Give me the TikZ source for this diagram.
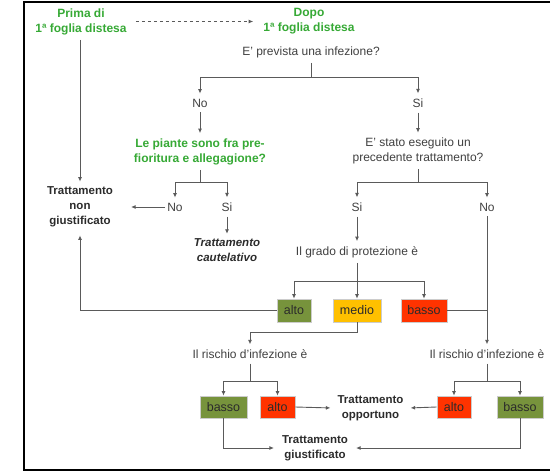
\documentclass[tikz,border=0pt]{standalone}
\usepackage{fontspec}
\setmainfont{Liberation Sans}
\usetikzlibrary{arrows.meta}
\definecolor{gtxt}{HTML}{36A935}
\definecolor{tgray}{HTML}{404040}
\definecolor{tdark}{HTML}{2B2B2B}
\definecolor{lgray}{HTML}{5A5A5A}
\definecolor{bgreen}{HTML}{77933C}
\definecolor{byellow}{HTML}{FFC000}
\definecolor{bred}{HTML}{FF3300}
\tikzset{
  txt/.style={font=\fontsize{12}{15}\selectfont, text=tgray, align=center, inner sep=5pt},
  gtx/.style={txt, font=\fontsize{12}{15}\selectfont\bfseries, text=gtxt},
  btx/.style={txt, font=\fontsize{11.5}{15}\selectfont\bfseries, text=tdark},
  itx/.style={txt, font=\fontsize{11.5}{15}\selectfont\bfseries\itshape, text=tdark},
  box/.style={draw=white!80!black, line width=0.6pt, font=\fontsize{12.5}{15}\selectfont, text=tdark, minimum height=23pt, inner sep=0pt},
  ln/.style={draw=lgray, line width=0.9pt},
  arr/.style={ln, -{Latex[length=4.5pt,width=4pt]}},
}
\begin{document}
\begin{tikzpicture}[x=1pt,y=-1pt]
\clip (0,0) rectangle (550,472);
\draw[line width=1.6pt] (24,2) rectangle (600,470);
% nodes
\node[gtx] (prima) at (81,21.5) {Prima di\\1ª foglia distesa};
\node[gtx] (dopo) at (309,21.5) {Dopo\\1ª foglia distesa};
\node[txt] (q1) at (311,52) {E' prevista una infezione?};
\node[txt] (no1) at (200,103) {No};
\node[txt] (si1) at (418,103) {Si};
\node[gtx] (q2) at (200,151.5) {Le piante sono fra pre-\\fioritura e allegagione?};
\node[txt] (q3) at (418,151) {E' stato eseguito un\\precedente trattamento?};
\node[txt] (no2) at (175,207) {No};
\node[txt] (si2) at (227,207) {Si};
\node[btx] (nong) at (80,207) {Trattamento\\non\\giustificato};
\node[itx] (caut) at (227,250.5) {Trattamento\\cautelativo};
\node[txt] (si3) at (357,207) {Si};
\node[txt] (no3) at (487,207) {No};
\node[txt] (grado) at (357,252) {Il grado di protezione è};
\node[box, fill=bgreen, minimum width=34pt] (alto1) at (294,310.5) {alto};
\node[box, fill=byellow, minimum width=48pt] (medio) at (357,310.5) {medio};
\node[box, fill=bred, minimum width=46pt] (basso1) at (424,310.5) {basso};
\node[txt] (risk1) at (250,354) {Il rischio d'infezione è};
\node[txt] (risk2) at (487,354) {Il rischio d'infezione è};
\node[box, fill=bgreen, minimum width=47pt, minimum height=22pt] (basso2) at (223.5,407) {basso};
\node[box, fill=bred, minimum width=35pt, minimum height=22pt] (alto2) at (277.5,407) {alto};
\node[btx] (opp) at (370.5,408) {Trattamento\\opportuno};
\node[box, fill=bred, minimum width=34pt, minimum height=22pt] (alto3) at (454,407) {alto};
\node[box, fill=bgreen, minimum width=46pt, minimum height=22pt] (basso3) at (520,407) {basso};
\node[btx] (giust) at (315,448) {Trattamento\\giustificato};
% junctions
\coordinate (j1) at (311,77);
\coordinate (j2) at (200,182);
\coordinate (j3) at (418,182);
\coordinate (j4) at (357,281);
\coordinate (j5) at (250,332);
\coordinate (j6) at (250,381);
\coordinate (j7) at (487,381);
% connectors
\draw[arr, dash pattern=on 3.5pt off 2.5pt, shorten <=4pt, shorten >=5pt] (prima.east) -- (dopo.west);
\draw[arr] (prima.south -| nong.north) -- (nong.north);
\draw[ln] (q1.south) -- (j1);
\draw[arr] (j1) -| (no1.north);
\draw[arr] (j1) -| (si1.north);
\draw[arr] (no1.south) -- (q2.north);
\draw[arr] (si1.south) -- (q3.north);
\draw[ln] (q2.south) -- (j2);
\draw[arr] (j2) -| (no2.north);
\draw[arr] (j2) -| (si2.north);
\draw[arr, shorten <=-3pt, shorten >=13pt] (no2.west) -- (no2.west -| nong.east);
\draw[arr] (si2.south) -- (caut.north);
\draw[arr, shorten >=3pt] (alto1.west) -| (nong.south);
\draw[ln] (q3.south) -- (j3);
\draw[arr] (j3) -| (si3.north);
\draw[arr] (j3) -| (no3.north);
\draw[arr] (si3.south) -- (grado.north);
\draw[ln] (grado.south) -- (j4);
\draw[arr] (j4) -| (alto1.north);
\draw[arr] (j4) -- (medio.north);
\draw[arr] (j4) -| (basso1.north);
\draw[arr] (medio.south) |- (j5) -- (risk1.north);
\draw[ln] (basso1.east) -- (basso1.east -| no3.south);
\draw[arr] (no3.south) -- (risk2.north);
\draw[ln] (risk1.south) -- (j6);
\draw[arr] (j6) -| (basso2.north);
\draw[arr] (j6) -| (alto2.north);
\draw[ln] (risk2.south) -- (j7);
\draw[arr] (j7) -| (alto3.north);
\draw[arr] (j7) -| (basso3.north);
\draw[arr, shorten >=2pt] (alto2.east) -- (opp.west);
\draw[arr, shorten >=2pt] (alto3.west) -- (opp.east);
\draw[arr, shorten >=3pt] (basso2.south) |- (giust.west);
\draw[arr, shorten >=3pt] (basso3.south) |- (giust.east);
\end{tikzpicture}
\end{document}
